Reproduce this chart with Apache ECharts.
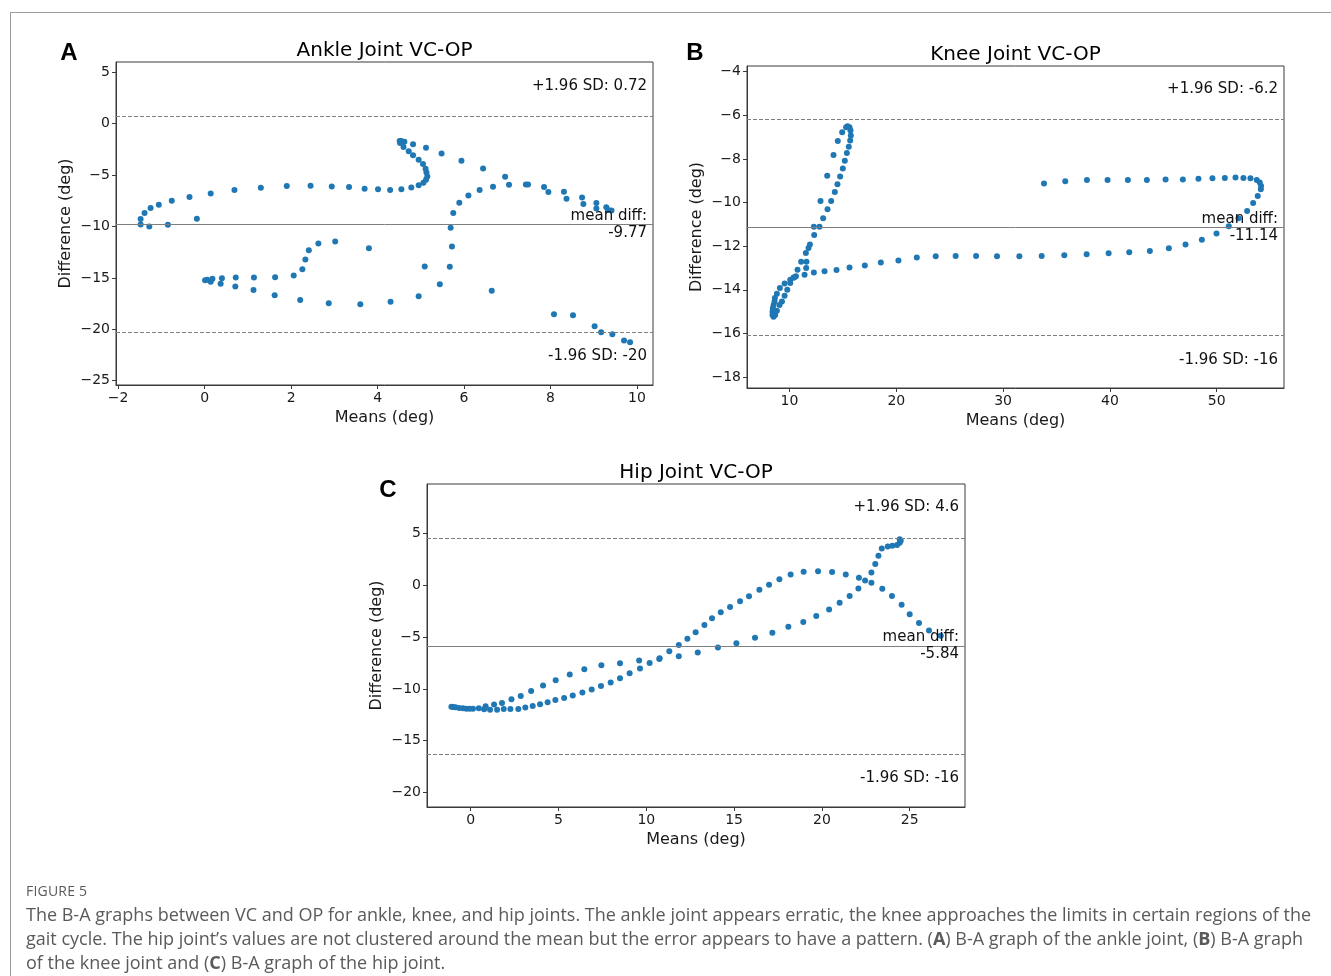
<!DOCTYPE html>
<html>
<head>
<meta charset="utf-8">
<script src="https://cdn.jsdelivr.net/npm/echarts@6/dist/echarts.min.js"></script>
<style>
  body { margin: 0; background: #fff; }
  #wrap { position: relative; width: 1331px; height: 976px; overflow: hidden; }
  #main { position: absolute; left: 0; top: 0; width: 1331px; height: 976px; }
  #frame { position: absolute; left: 10px; top: 12px; right: 0; bottom: 0;
           border-top: 1px solid #9c9c9c; border-left: 1px solid #9c9c9c; }
  #caption { position: absolute; left: 26px; top: 880px; width: 1305px; white-space: nowrap;
             font-family: "Open Sans", sans-serif; color: #5a5a5a; }
  #caption .fig { font-size: 14px; letter-spacing: 0.2px; line-height: 22px; }
  #caption .txt { font-size: 18px; line-height: 24px; }
</style>
</head>
<body>
<div id="wrap">
  <div id="frame"></div>
  <div id="main"></div>
  <div id="caption">
    <div class="fig">FIGURE 5</div>
    <div class="txt">The B-A graphs between VC and OP for ankle, knee, and hip joints. The ankle joint appears erratic, the knee approaches the limits in certain regions of the<br>gait cycle. The hip joint’s values are not clustered around the mean but the error appears to have a pattern. (<b>A</b>) B-A graph of the ankle joint, (<b>B</b>) B-A graph<br>of the knee joint and (<b>C</b>) B-A graph of the hip joint.</div>
  </div>
</div>
<script>
// 数据: [means, difference]
var anklePoints = [
  [-1.48,-9.28],[-1.48,-9.80],[-1.39,-8.70],[-1.25,-8.21],[-1.28,-10.0],[-1.06,-7.89],[-0.76,-7.50],[-0.85,-9.83],
  [-0.35,-7.14],[-0.18,-9.25],[0.14,-6.78],[0.69,-6.46],[1.30,-6.23],[1.90,-6.07],[2.45,-6.04],[2.94,-6.10],
  [3.34,-6.17],[3.70,-6.33],[4.01,-6.39],[4.29,-6.46],[4.55,-6.39],[4.78,-6.20],[4.95,-6.00],[5.06,-5.75],
  [5.12,-5.45],[5.15,-5.13],[5.13,-4.74],[5.11,-4.38],[5.05,-3.93],[4.95,-3.51],[4.82,-3.08],[4.72,-2.69],
  [4.60,-2.27],[4.52,-1.88],[4.51,-1.69],[4.55,-1.69],[4.62,-1.75],[4.82,-2.01],[5.12,-2.34],[5.48,-2.89],
  [5.94,-3.60],[6.44,-4.35],[6.95,-5.16],[7.04,-5.94],[7.43,-5.91],[7.48,-5.91],[7.85,-6.17],[7.95,-6.65],
  [8.31,-6.62],[8.37,-7.30],[8.73,-7.17],[8.76,-7.82],[9.06,-7.72],[9.06,-8.24],[9.29,-8.12],[9.33,-8.40],[9.41,-8.44],
  [6.36,-6.46],[6.67,-6.13],[6.10,-6.98],[5.89,-7.69],[5.75,-8.70],[5.69,-10.13],[5.72,-11.95],[5.67,-13.92],
  [5.44,-15.61],[4.95,-16.78],[4.30,-17.33],[5.09,-13.89],[6.64,-16.26],[8.08,-18.53],[8.52,-18.63],[9.02,-19.70],
  [9.17,-20.28],[9.43,-20.48],[9.70,-21.10],[9.84,-21.26],
  [0.01,-15.22],[0.06,-15.19],[0.14,-15.38],[0.18,-15.09],[0.37,-15.58],[0.40,-15.03],[0.71,-15.84],[0.72,-14.96],
  [1.13,-16.19],[1.14,-14.96],[1.62,-16.68],[1.63,-14.93],[2.06,-14.77],[2.21,-17.14],[2.26,-14.15],[2.33,-13.21],
  [2.41,-12.30],[2.63,-11.65],[3.02,-11.46],[2.87,-17.46],[3.60,-17.56],[3.80,-12.11]
];
var kneePoints = [
  [8.41,-15.15],[8.41,-15.0],[8.44,-14.84],[8.51,-14.69],[8.60,-14.53],[8.63,-14.38],[8.82,-14.18],[9.10,-13.92],
  [9.54,-13.71],[10.07,-13.54],[10.38,-13.43],[10.60,-13.38],[10.75,-13.08],[11.09,-12.71],[11.59,-12.71],[11.53,-12.31],
  [11.78,-12.08],[11.91,-11.92],[12.31,-11.49],[12.28,-11.11],[12.81,-11.11],[13.15,-10.72],[13.56,-10.31],[13.90,-9.93],
  [14.24,-9.51],[14.49,-9.16],[14.74,-8.80],[14.99,-8.44],[15.18,-8.08],[15.37,-7.73],[15.55,-7.44],[15.68,-7.16],
  [15.74,-6.93],[15.71,-6.70],[15.62,-6.55],[15.43,-6.50],[15.30,-6.55],[14.93,-6.78],[14.52,-7.18],[14.12,-7.82],
  [13.53,-8.77],[12.90,-9.93],
  [8.51,-15.23],[8.66,-15.15],[8.82,-14.96],[9.07,-14.69],[9.29,-14.53],[9.54,-14.27],[9.79,-14.0],[10.07,-13.69],
  [10.44,-13.43],[11.41,-13.31],[11.56,-13.0],[12.28,-13.21],[13.28,-13.15],[14.40,-13.09],[15.62,-12.98],[17.05,-12.88],
  [18.55,-12.75],[20.20,-12.65],[21.92,-12.52],[23.69,-12.46],[25.56,-12.45],[27.47,-12.45],[29.43,-12.46],[31.52,-12.46],
  [33.61,-12.45],[35.73,-12.41],[37.82,-12.37],[39.88,-12.32],[41.81,-12.28],[43.74,-12.22],[45.52,-12.09],[47.08,-11.92],
  [48.61,-11.71],[49.98,-11.42],[51.13,-11.08],[52.04,-10.72],[52.85,-10.39],[53.41,-10.02],[53.84,-9.70],[54.13,-9.39],
  [54.15,-9.24],[54.03,-9.08],[53.75,-8.96],[53.16,-8.88],[52.50,-8.87],[51.76,-8.85],[50.76,-8.87],[49.60,-8.88],
  [48.29,-8.91],[46.83,-8.94],[45.21,-8.94],[43.46,-8.96],[41.68,-8.96],[39.78,-8.96],[37.85,-8.96],[35.82,-9.02],[33.83,-9.13]
];
var hipPoints = [
  [-1.10,-11.71],[-1.01,-11.74],[-0.87,-11.77],[-0.66,-11.83],[-0.44,-11.87],[-0.25,-11.90],[-0.06,-11.90],[0.13,-11.90],
  [0.46,-11.87],[0.76,-11.96],
  [0.85,-11.67],[1.33,-11.51],[1.78,-11.35],[2.32,-10.99],[2.85,-10.67],[3.44,-10.19],[4.12,-9.67],[4.84,-9.16],
  [5.64,-8.61],[6.47,-8.09],[7.44,-7.71],[8.50,-7.51],[9.59,-7.26],[10.74,-7.10],[11.85,-6.84],[12.93,-6.48],
  [14.08,-6.0],[15.13,-5.58],[16.19,-5.06],[17.18,-4.58],[18.09,-4.0],[18.94,-3.52],[19.68,-2.94],[20.41,-2.32],
  [21.01,-1.68],[21.58,-1.03],[22.08,-0.29],[22.46,0.48],[22.82,1.25],[23.04,2.08],[23.22,2.86],[23.41,3.57],
  [23.75,3.77],[24.01,3.83],[24.28,3.90],[24.43,4.12],[24.49,4.31],[24.43,4.47],
  [1.10,-12.0],[1.50,-12.0],[1.88,-11.93],[2.26,-11.93],[2.71,-11.93],[3.11,-11.80],[3.53,-11.64],[3.95,-11.48],
  [4.38,-11.29],[4.82,-11.06],[5.32,-10.87],[5.81,-10.64],[6.36,-10.35],[6.89,-10.06],[7.42,-9.71],[7.97,-9.38],
  [8.50,-8.97],[9.05,-8.48],[9.64,-8.03],[10.19,-7.48],[10.76,-7.03],[11.31,-6.35],[11.85,-5.74],[12.34,-5.16],
  [12.81,-4.51],[13.31,-3.81],[13.74,-3.16],[14.24,-2.58],[14.77,-2.07],[15.34,-1.52],[15.85,-1.04],[16.44,-0.42],
  [16.99,0.06],[17.58,0.61],[18.22,1.06],[18.96,1.32],[19.78,1.38],[20.58,1.29],[21.36,1.06],[22.11,0.74],
  [22.82,0.25],[23.44,-0.32],[23.99,-1.03],[24.54,-1.87],[25.00,-2.78],[25.53,-3.62],[26.10,-4.36],[26.77,-4.87]
];
// 均值和 ±1.96 SD 线: [upper, mean, lower]
var ankleLimits = [0.72, -9.77, -20.26];
var kneeLimits = [-6.20, -11.14, -16.08];
var hipLimits = [4.60, -5.84, -16.28];
var ankleLimitLabels = ['+1.96 SD: 0.72', 'mean diff:\n-9.77', '-1.96 SD: -20'];
var kneeLimitLabels = ['+1.96 SD: -6.2', 'mean diff:\n-11.14', '-1.96 SD: -16'];
var hipLimitLabels = ['+1.96 SD: 4.6', 'mean diff:\n-5.84', '-1.96 SD: -16'];
// 刻度
var ankleTicksX = [-2, 0, 2, 4, 6, 8, 10];
var ankleTicksY = [-25, -20, -15, -10, -5, 0, 5];
var kneeTicksX = [10, 20, 30, 40, 50];
var kneeTicksY = [-18, -16, -14, -12, -10, -8, -6, -4];
var hipTicksX = [0, 5, 10, 15, 20, 25];
var hipTicksY = [-20, -15, -10, -5, 0, 5];

var FONT = '"DejaVu Sans", sans-serif';
var panels = [
  {letter: 'A', title: 'Ankle Joint VC-OP', grid: {left: 116, top: 62, width: 537, height: 323},
   xr: [-2.05, 10.37], yr: [-25.42, 6.0], pts: anklePoints, lim: ankleLimits, labels: ankleLimitLabels,
   tx: ankleTicksX, ty: ankleTicksY, letterPos: [69, 53]},
  {letter: 'B', title: 'Knee Joint VC-OP', grid: {left: 747, top: 66, width: 537, height: 322},
   xr: [6.02, 56.3], yr: [-18.5, -3.74], pts: kneePoints, lim: kneeLimits, labels: kneeLimitLabels,
   tx: kneeTicksX, ty: kneeTicksY, letterPos: [695, 53]},
  {letter: 'C', title: 'Hip Joint VC-OP', grid: {left: 427, top: 484, width: 538, height: 323},
   xr: [-2.49, 28.15], yr: [-21.4, 9.8], pts: hipPoints, lim: hipLimits, labels: hipLimitLabels,
   tx: hipTicksX, ty: hipTicksY, letterPos: [388, 490]}
];

var minus = function (v) { return String(v).replace('-', '\u2212'); };

var grids = [], xAxes = [], yAxes = [], series = [], graphics = [];
panels.forEach(function (p, i) {
  grids.push({left: p.grid.left, top: p.grid.top, width: p.grid.width, height: p.grid.height,
    show: true, borderColor: '#3a3a3a', borderWidth: 1, backgroundColor: 'transparent',
    containLabel: false, outerBoundsMode: 'none'});
  xAxes.push({type: 'value', gridIndex: i, min: p.xr[0], max: p.xr[1],
    name: 'Means (deg)', nameLocation: 'middle', nameGap: 25,
    nameTextStyle: {fontFamily: FONT, fontSize: 16, color: '#1a1a1a'},
    axisLine: {show: true, onZero: false, lineStyle: {color: '#3a3a3a'}},
    axisTick: {show: true, inside: false, length: 4, customValues: p.tx, lineStyle: {color: '#3a3a3a'}},
    axisLabel: {customValues: p.tx, formatter: minus, fontFamily: FONT, fontSize: 14, color: '#1a1a1a', margin: 6},
    splitLine: {show: false}});
  yAxes.push({type: 'value', gridIndex: i, min: p.yr[0], max: p.yr[1],
    name: 'Difference (deg)', nameLocation: 'middle', nameGap: 42,
    nameTextStyle: {fontFamily: FONT, fontSize: 16, color: '#1a1a1a'},
    axisLine: {show: true, onZero: false, lineStyle: {color: '#3a3a3a'}},
    axisTick: {show: true, inside: false, length: 4, customValues: p.ty, lineStyle: {color: '#3a3a3a'}},
    axisLabel: {customValues: p.ty, formatter: minus, fontFamily: FONT, fontSize: 14, color: '#1a1a1a', margin: 6},
    splitLine: {show: false}});
  var lbl = {fontFamily: FONT, fontSize: 15, color: '#111', lineHeight: 17};
  series.push({type: 'scatter', xAxisIndex: i, yAxisIndex: i, data: p.pts, symbolSize: 6,
    itemStyle: {color: '#1f77b4', opacity: 1}, z: 3,
    markLine: {silent: true, symbol: 'none', animation: false, z: 4,
      data: [
        {yAxis: p.lim[0], lineStyle: {type: [4, 2], color: '#7f7f7f', width: 1},
         label: Object.assign({position: 'insideEndTop', distance: [6, 22], formatter: p.labels[0]}, lbl)},
        {yAxis: p.lim[1], lineStyle: {type: 'solid', color: '#7f7f7f', width: 1},
         label: Object.assign({position: 'insideEnd', distance: 6, formatter: p.labels[1]}, lbl)},
        {yAxis: p.lim[2], lineStyle: {type: [4, 2], color: '#7f7f7f', width: 1},
         label: Object.assign({position: 'insideEndBottom', distance: [6, 16], formatter: p.labels[2]}, lbl)}
      ]}});
  graphics.push({type: 'text', x: p.grid.left + p.grid.width / 2, y: p.grid.top - 11,
    style: {text: p.title, font: '20px ' + FONT, fill: '#000', align: 'center', verticalAlign: 'middle'}});
  graphics.push({type: 'text', x: p.letterPos[0], y: p.letterPos[1],
    style: {text: p.letter, font: 'bold 24px "Liberation Sans", Arial, sans-serif', fill: '#000',
            align: 'center', verticalAlign: 'middle'}});
});

var myChart = echarts.init(document.getElementById('main'), null, {renderer: 'canvas'});
myChart.setOption({
  animation: false,
  grid: grids,
  xAxis: xAxes,
  yAxis: yAxes,
  series: series,
  graphic: graphics
});
</script>
</body>
</html>
